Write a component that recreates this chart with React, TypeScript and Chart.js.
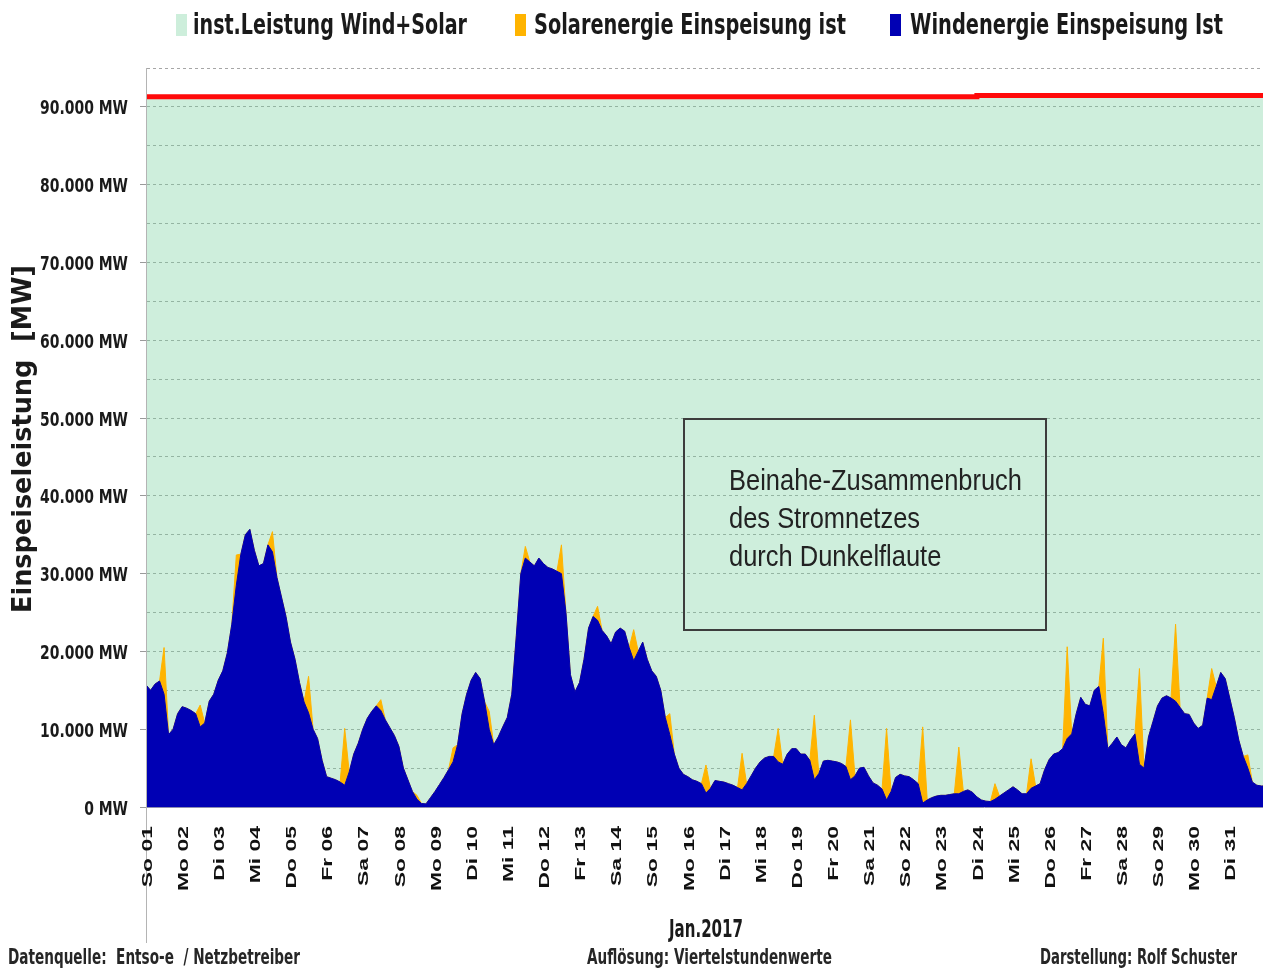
import React, { useEffect, useRef } from 'react';
import { Chart, registerables } from 'chart.js';

Chart.register(...registerables);

// ---- data -------------------------------------------------------------
// time grid: 3-hour steps starting 01.01.2017 00:00 (x in days)
const stepHours = 3;

// Wind feed-in [MW], 8 values per day (0,3,6,9,12,15,18,21 h)
const windMW: number[] = [
  15700, 15000, 15800, 16200, 14500, 9300, 10000, 12000, // So 01
  12900, 12700, 12400, 12000, 10300, 10800, 13600, 14500, // Mo 02
  16300, 17500, 19800, 23500, 28500, 32500, 35000, 35700, // Di 03
  33000, 31000, 31300, 33700, 32800, 29500, 27000, 24500, // Mi 04
  21200, 19000, 16000, 13500, 12100, 10000, 8800, 6000, // Do 05
  3900, 3700, 3500, 3200, 2800, 4500, 6800, 8200, // Fr 06
  10000, 11400, 12300, 13000, 12400, 11200, 10200, 9200, // Sa 07
  7800, 5000, 3500, 2000, 1000, 450, 400, 1200, // So 08
  2000, 2900, 3800, 4800, 5800, 8000, 12000, 14500, // Mo 09
  16300, 17300, 16500, 13500, 10000, 8000, 9000, 10300, // Di 10
  11500, 14500, 22000, 30000, 32000, 31500, 31000, 32000, // Mi 11
  31300, 30800, 30600, 30300, 30000, 25000, 17000, 14800, // Do 12
  16000, 19000, 23000, 24500, 24000, 22700, 22000, 21000, // Fr 13
  22500, 23000, 22600, 20500, 18800, 20000, 21200, 19000, // Sa 14
  17500, 16800, 15000, 11500, 9300, 6800, 5000, 4200, // So 15
  3900, 3500, 3300, 3000, 1800, 2400, 3400, 3300, // Mo 16
  3200, 3000, 2800, 2500, 2200, 3000, 4000, 5000, // Di 17
  5800, 6300, 6500, 6500, 5800, 5500, 6800, 7500, // Mi 18
  7500, 6800, 6800, 6000, 3500, 4300, 5900, 6000, // Do 19
  5900, 5800, 5600, 5200, 3500, 4000, 5000, 5100, // Fr 20
  4000, 3100, 2800, 2300, 900, 2000, 3800, 4200, // Sa 21
  4000, 3900, 3500, 3000, 500, 900, 1200, 1400, // So 22
  1500, 1500, 1600, 1700, 1700, 2000, 2200, 1900, // Mo 23
  1300, 900, 750, 700, 1000, 1400, 1800, 2200, // Di 24
  2600, 2200, 1700, 1700, 2400, 2700, 3000, 4800, // Mi 25
  6100, 6800, 7000, 7500, 8800, 9400, 12000, 14100, // Do 26
  13200, 13000, 15000, 15500, 12000, 7500, 8200, 9000, // Fr 27
  8000, 7600, 8600, 9400, 5500, 5000, 9000, 11000, // Sa 28
  13000, 14000, 14300, 14000, 13600, 12800, 12000, 11900, // So 29
  10800, 10100, 10500, 14000, 13800, 15500, 17300, 16500, // Mo 30
  14000, 11500, 8600, 6500, 5000, 3200, 2800, 2700, // Di 31
  2700,
];

// Solar feed-in at noon [MW] per day (night / edge values are 0)
const solarNoonMW: number[] = [
  6000, 2800, 3900, 2600, 4700, 7300, 1400, 500, 1800, 2300, 1500, 3700, 1800, 4000, 2700, 3600,
  4700, 4300, 8300, 7700, 9200, 9800, 6000, 2000, 3800, 11800, 9700, 12300, 9900, 4000, 1700,
];

// installed capacity wind+solar [MW]
const capDays: number[] = [0, 23, 23, 31];
const capMW: number[] = [91300, 91300, 91450, 91450];

const dayLabels: string[] = [
  'So 01', 'Mo 02', 'Di 03', 'Mi 04', 'Do 05', 'Fr 06', 'Sa 07', 'So 08', 'Mo 09', 'Di 10',
  'Mi 11', 'Do 12', 'Fr 13', 'Sa 14', 'So 15', 'Mo 16', 'Di 17', 'Mi 18', 'Do 19', 'Fr 20',
  'Sa 21', 'So 22', 'Mo 23', 'Di 24', 'Mi 25', 'Do 26', 'Fr 27', 'Sa 28', 'So 29', 'Mo 30', 'Di 31',
];

const yTickValues: number[] = [0, 10000, 20000, 30000, 40000, 50000, 60000, 70000, 80000, 90000];
const yTickLabels: string[] = [
  '0 MW', '10.000 MW', '20.000 MW', '30.000 MW', '40.000 MW', '50.000 MW', '60.000 MW', '70.000 MW', '80.000 MW', '90.000 MW',
];

const seriesLabels: string[] = ['inst.Leistung Wind+Solar', 'Solarenergie Einspeisung ist', 'Windenergie Einspeisung Ist'];
const legendSwatch: string[] = ['#cdeedb', '#ffb400', '#0000b4'];

const annotationLines: string[] = ['Beinahe-Zusammenbruch', 'des Stromnetzes', 'durch Dunkelflaute'];
const axisTitleY = 'Einspeiseleistung  [MW]';
const axisTitleX = 'Jan.2017';
const footerTexts: string[] = ['Datenquelle:  Entso-e  / Netzbetreiber', 'Auflösung: Viertelstundenwerte', 'Darstellung: Rolf Schuster'];

// ---- helpers ----------------------------------------------------------
const NARROW = '"Liberation Sans Narrow", "DejaVu Sans Condensed", "Liberation Sans", sans-serif';
const ARIAL = '"Liberation Sans", Arial, sans-serif';

function measure(ctx: CanvasRenderingContext2D, text: string, font: string) {
  ctx.save();
  ctx.font = font;
  const w = ctx.measureText(text).width;
  ctx.restore();
  return w;
}

function drawScaled(
  ctx: CanvasRenderingContext2D,
  text: string,
  x: number,
  y: number,
  font: string,
  sx: number,
  align: CanvasTextAlign,
  baseline: CanvasTextBaseline,
  color: string,
  rotate = false,
) {
  ctx.save();
  ctx.font = font;
  ctx.translate(x, y);
  if (rotate) ctx.rotate(-Math.PI / 2);
  ctx.scale(sx, 1);
  ctx.textAlign = align;
  ctx.textBaseline = baseline;
  ctx.fillStyle = color;
  ctx.fillText(text, 0, 0);
  ctx.restore();
}

function drawFit(
  ctx: CanvasRenderingContext2D,
  text: string,
  x: number,
  y: number,
  font: string,
  width: number,
  align: CanvasTextAlign,
  color: string,
  rotate = false,
) {
  const sx = width / measure(ctx, text, font);
  drawScaled(ctx, text, x, y, font, sx, align, 'alphabetic', color, rotate);
}

const decorPlugin = {
  id: 'decor',
  afterDraw(chart: any) {
    const ctx: CanvasRenderingContext2D = chart.ctx;
    const xS = chart.scales.x;
    const yS = chart.scales.y;
    const area = chart.chartArea;

    // left axis line extended below the plot
    ctx.save();
    ctx.strokeStyle = '#b4b4b4';
    ctx.lineWidth = 1;
    ctx.beginPath();
    ctx.moveTo(area.left + 0.5, area.top);
    ctx.lineTo(area.left + 0.5, 943);
    ctx.stroke();
    ctx.restore();

    // legend
    const legendPos = [
      { bx: 176, tx: 193, w: 274 },
      { bx: 515, tx: 534, w: 312 },
      { bx: 890, tx: 910, w: 313 },
    ];
    legendPos.forEach((p, i) => {
      ctx.fillStyle = legendSwatch[i];
      ctx.fillRect(p.bx, 14, 11, 22);
      drawFit(ctx, seriesLabels[i], p.tx, 34, `bold 29px ${NARROW}`, p.w, 'left', '#1a1a1a');
    });

    // y tick labels
    const yFont = `bold 20px ${NARROW}`;
    const ySx = 88 / measure(ctx, '90.000 MW', yFont);
    yTickValues.forEach((v, i) => {
      const py = yS.getPixelForValue(v);
      drawScaled(ctx, yTickLabels[i], 128, py + 7.5, yFont, ySx, 'right', 'alphabetic', '#1a1a1a');
    });

    // y axis title
    drawFit(ctx, axisTitleY, 31, 613, `bold 26px ${NARROW}`, 348, 'left', '#1a1a1a', true);

    // x tick labels (rotated)
    const xFont = `bold 15px ${ARIAL}`;
    const xSx = 65 / measure(ctx, 'Mo 02', xFont);
    dayLabels.forEach((lab, i) => {
      const px = xS.getPixelForValue(i) + 1.5;
      drawScaled(ctx, lab, px, 826, xFont, xSx, 'right', 'middle', '#111111', true);
    });

    // x axis title
    drawFit(ctx, axisTitleX, 706, 937, `bold 24px ${NARROW}`, 74, 'center', '#1a1a1a');

    // footer
    drawFit(ctx, footerTexts[0], 8, 964, `bold 22px ${NARROW}`, 292, 'left', '#262626');
    drawFit(ctx, footerTexts[1], 587, 964, `bold 22px ${NARROW}`, 245, 'left', '#262626');
    drawFit(ctx, footerTexts[2], 1237, 964, `bold 22px ${NARROW}`, 197, 'right', '#262626');

    // annotation box
    ctx.save();
    ctx.strokeStyle = '#3c3c3c';
    ctx.lineWidth = 2;
    ctx.strokeRect(684, 419, 362, 211);
    ctx.restore();
    const aFont = `30px ${ARIAL}`;
    const aSx = 293 / measure(ctx, annotationLines[0], aFont);
    const baselines = [490, 528, 566];
    annotationLines.forEach((t, i) => {
      drawScaled(ctx, t, 729, baselines[i], aFont, aSx, 'left', 'alphabetic', '#222222');
    });
  },
};

export default function App() {
  const ref = useRef<HTMLCanvasElement>(null);

  useEffect(() => {
    document.body.style.margin = '0';
    const canvas = ref.current;
    if (!canvas) return;

    const xs = windMW.map((_, i) => (i * stepHours) / 24);
    const windData = xs.map((x, i) => ({ x, y: windMW[i] }));
    const solarData = xs.map((x, i) => ({ x, y: i % 8 === 4 ? solarNoonMW[Math.floor(i / 8)] : 0 }));
    const capData = capDays.map((x, i) => ({ x, y: capMW[i] }));

    const chart = new Chart(canvas, {
      type: 'line',
      data: {
        datasets: [
          {
            label: seriesLabels[0],
            data: capData,
            stack: 'cap',
            order: 3,
            borderColor: '#ff0a0a',
            borderWidth: 5,
            backgroundColor: 'rgba(115,206,155,0.35)',
            fill: 'origin',
            pointRadius: 0,
            tension: 0,
          },
          {
            label: seriesLabels[1],
            data: solarData,
            stack: 'gen',
            order: 2,
            borderColor: '#ffb400',
            borderWidth: 1,
            backgroundColor: '#ffb400',
            fill: 'origin',
            pointRadius: 0,
            tension: 0,
          },
          {
            label: seriesLabels[2],
            data: windData,
            stack: 'gen',
            order: 1,
            borderColor: '#0000b4',
            borderWidth: 1,
            backgroundColor: '#0000b4',
            fill: 'origin',
            pointRadius: 0,
            tension: 0,
          },
        ],
      } as any,
      options: {
        responsive: false,
        animation: false,
        devicePixelRatio: 1,
        layout: { padding: { top: 68, left: 0, right: 0, bottom: 0 } },
        plugins: { legend: { display: false }, tooltip: { enabled: false } },
        scales: {
          x: {
            type: 'linear',
            min: 0,
            max: 30.92,
            ticks: { display: false },
            grid: { display: false },
            border: { display: true, color: '#8c8cb0', width: 1 },
            afterFit: (s: any) => {
              s.height = 162;
            },
          },
          y: {
            stacked: true,
            min: 0,
            max: 95000,
            ticks: { display: false, stepSize: 5000 },
            grid: {
              color: '#a6a6a6',
              lineWidth: 1,
              drawTicks: true,
              tickLength: 6,
              tickColor: (c: any) => (c.tick && c.tick.value % 10000 === 0 && c.tick.value <= 90000 ? '#9a9a9a' : 'rgba(0,0,0,0)'),
            },
            border: { display: true, color: '#b4b4b4', width: 1, dash: [3, 3] },
            afterFit: (s: any) => {
              s.width = 146;
            },
          },
        },
      } as any,
      plugins: [decorPlugin],
    });

    return () => chart.destroy();
  }, []);

  return <canvas ref={ref} width={1263} height={969} style={{ display: 'block' }} />;
}
